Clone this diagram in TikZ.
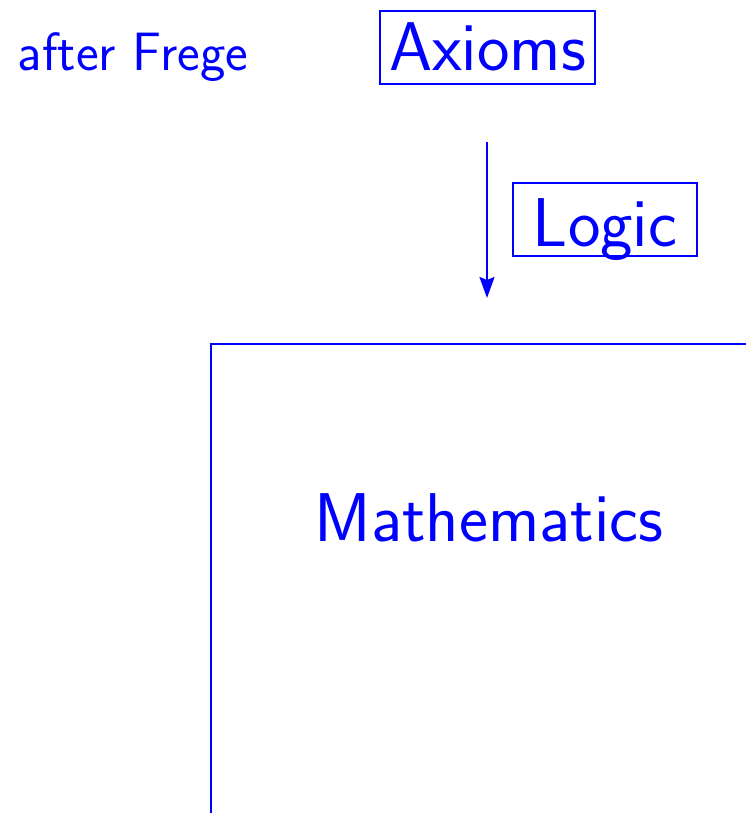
\documentclass[tikz,border=0pt]{standalone}
\usetikzlibrary{arrows.meta}
\begin{document}
\begin{tikzpicture}[x=1pt,y=1pt,
  every node/.style={text=blue,font=\sffamily},
  boxed/.style={draw=blue,line width=2pt,inner sep=0pt,text depth=0pt},
  bigfont/.style={font=\sffamily\fontsize{69}{80}\selectfont},
  conn/.style={draw=blue,line width=2pt,-{Stealth[length=21pt,width=15pt,inset=3pt]}}]
\useasboundingbox (0,0) rectangle (745,-813);
\node[boxed,bigfont,minimum width=215pt,minimum height=73pt,text height=47pt] (axioms) at (487.5,-47.5) {Axioms};
\node[boxed,bigfont,minimum width=184pt,minimum height=73pt,text height=53pt] (logic) at (605,-219.5) {Logic};
\node[anchor=base,font=\sffamily\fontsize{54}{64}\selectfont] (frege) at (133,-71) {after Frege};
\node[anchor=base,bigfont] (math) at (489,-541) {Mathematics};
\coordinate (a1) at (487,-142);
\coordinate (a2) at (487,-298);
\draw[conn] (a1) -- (a2);
\coordinate (bl) at (211,-815);
\coordinate (tl) at (211,-344);
\coordinate (tr) at (747,-344);
\draw[blue,line width=2pt] (bl) -- (tl) -- (tr);
\end{tikzpicture}
\end{document}
